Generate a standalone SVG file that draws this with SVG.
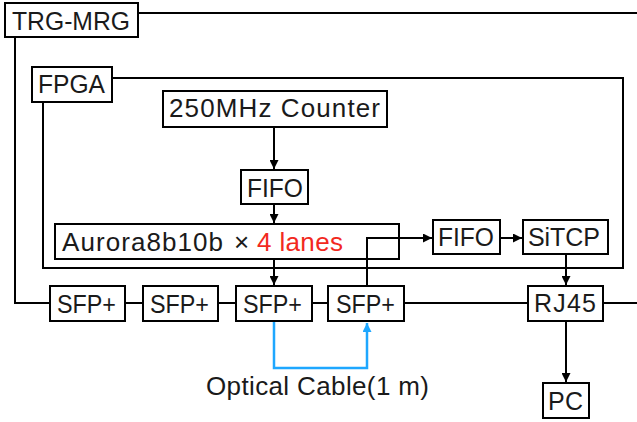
<svg xmlns="http://www.w3.org/2000/svg" width="637" height="422" viewBox="0 0 637 422">
<style>
.box{fill:#fff;stroke:#000;stroke-width:2}
.frame{fill:none;stroke:#000;stroke-width:2}
.ln{fill:none;stroke:#000;stroke-width:2}
.opt{fill:none;stroke:#1ea7ff;stroke-width:2.5}
text{font-family:"Liberation Sans",Arial,sans-serif;font-size:25px;fill:#1a1a1a}
.lg{font-size:26px}
.red{fill:#f2291e}
</style>
<defs>
<marker id="ah" viewBox="0 0 10 10" refX="10" refY="5" markerWidth="9" markerHeight="9" markerUnits="userSpaceOnUse" orient="auto">
<path d="M0,0 L10,5 L0,10 z" fill="#000"/>
</marker>
<marker id="ahb" viewBox="0 0 10 10" refX="10" refY="5" markerWidth="9" markerHeight="9" markerUnits="userSpaceOnUse" orient="auto">
<path d="M0,0 L10,5 L0,10 z" fill="#1ea7ff"/>
</marker>
</defs>
<rect width="637" height="422" fill="#fff"/>
<g id="connectors">
<path class="frame" d="M138,13 H640 M15,37 V303 H50"/>
<path class="frame" d="M112,78 H623 V268 H43 V102"/>
<path class="ln" d="M125,303 H143 M218,303 H236 M312,303 H328 M404,303 H528 M603,303 H640"/>
<path class="ln" d="M274,127 V169" marker-end="url(#ah)"/>
<path class="ln" d="M274,204 V223" marker-end="url(#ah)"/>
<path class="ln" d="M274,259 V285" marker-end="url(#ah)"/>
<path class="ln" d="M367,286 V238 H432" marker-end="url(#ah)"/>
<path class="ln" d="M500,238 H522" marker-end="url(#ah)"/>
<path class="ln" d="M566,254 V285" marker-end="url(#ah)"/>
<path class="ln" d="M566,321 V382" marker-end="url(#ah)"/>
<path class="opt" d="M274,321 V368 H367 V323" marker-end="url(#ahb)"/>
</g>
<g id="trg-mrg"><rect class="box" x="5" y="3" width="133" height="34"/><text x="12" y="30" textLength="118" lengthAdjust="spacingAndGlyphs">TRG-MRG</text></g>
<g id="fpga"><rect class="box" x="32" y="67" width="80" height="35"/><text x="38" y="93" textLength="67" lengthAdjust="spacingAndGlyphs">FPGA</text></g>
<g id="counter"><rect class="box" x="163" y="91" width="224" height="36"/><text class="lg" x="169" y="117" textLength="211" lengthAdjust="spacing">250MHz Counter</text></g>
<g id="fifo1"><rect class="box" x="241" y="170" width="67" height="34"/><text x="247" y="197" textLength="56" lengthAdjust="spacingAndGlyphs">FIFO</text></g>
<g id="aurora"><rect class="box" x="55" y="224" width="344" height="35" style="fill:none"/><text class="lg" y="251"><tspan x="62" textLength="161" lengthAdjust="spacing">Aurora8b10b</tspan> <tspan x="234">×</tspan> <tspan x="257" class="red" textLength="86" lengthAdjust="spacing">4 lanes</tspan></text></g>
<g id="fifo2"><rect class="box" x="433" y="220" width="67" height="34"/><text x="438" y="246" textLength="56" lengthAdjust="spacingAndGlyphs">FIFO</text></g>
<g id="sitcp"><rect class="box" x="523" y="220" width="85" height="34"/><text x="528" y="246" textLength="72" lengthAdjust="spacing">SiTCP</text></g>
<g id="sfp1"><rect class="box" x="50" y="286" width="75" height="35"/><text x="57" y="313" textLength="59" lengthAdjust="spacingAndGlyphs">SFP+</text></g>
<g id="sfp2"><rect class="box" x="143" y="286" width="75" height="35"/><text x="150" y="313" textLength="59" lengthAdjust="spacingAndGlyphs">SFP+</text></g>
<g id="sfp3"><rect class="box" x="236" y="286" width="76" height="35"/><text x="243" y="313" textLength="59" lengthAdjust="spacingAndGlyphs">SFP+</text></g>
<g id="sfp4"><rect class="box" x="328" y="286" width="76" height="35"/><text x="336" y="313" textLength="59" lengthAdjust="spacingAndGlyphs">SFP+</text></g>
<g id="rj45"><rect class="box" x="528" y="286" width="75" height="35"/><text x="534" y="312" textLength="62" lengthAdjust="spacing">RJ45</text></g>
<g id="pc"><rect class="box" x="543" y="383" width="46" height="35"/><text x="548" y="410" textLength="35" lengthAdjust="spacing">PC</text></g>
<g id="optical-label"><text class="lg" x="206" y="395" textLength="223" lengthAdjust="spacing">Optical Cable(1 m)</text></g>
</svg>
